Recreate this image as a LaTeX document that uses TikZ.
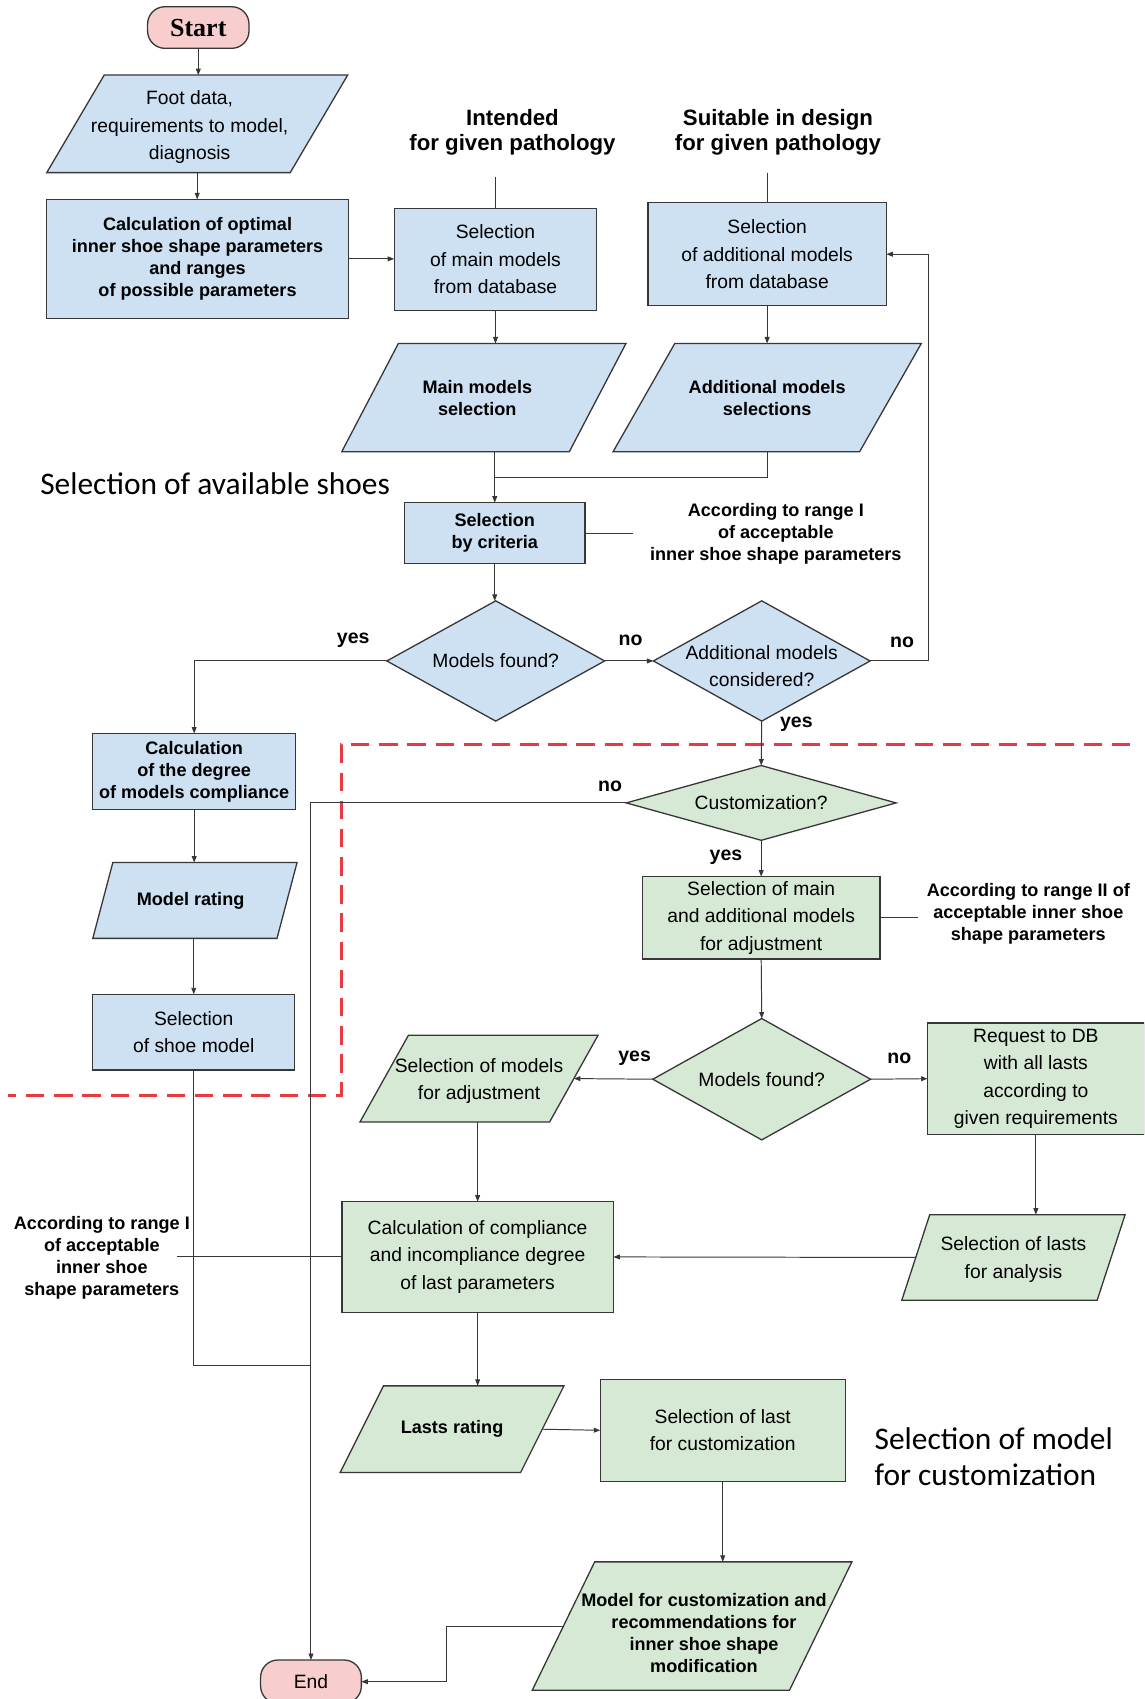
\documentclass[tikz,border=0pt]{standalone}
\usepackage{fontspec}
\setmainfont{Liberation Sans}
\newfontfamily\serifbold{Liberation Serif}
\newfontfamily\carlito{Carlito}
\usetikzlibrary{arrows.meta}
\definecolor{bluefill}{RGB}{205,225,243}
\definecolor{greenfill}{RGB}{214,233,212}
\definecolor{pinkfill}{RGB}{247,206,205}
\definecolor{edgecol}{RGB}{55,55,55}
\definecolor{redline}{RGB}{232,58,66}
\tikzset{
 shapeline/.style={draw=edgecol, line width=1.2pt},
 bluepara/.style={shapeline, fill=bluefill},
 greenpara/.style={shapeline, fill=greenfill},
 rbox/.style={shapeline, inner sep=0pt, outer sep=0pt, align=center},
 bluebox/.style={rbox, fill=bluefill},
 greenbox/.style={rbox, fill=greenfill},
 term/.style={shapeline, fill=pinkfill, rounded corners=16pt, inner sep=0pt, outer sep=0pt},
 anchorbox/.style={inner sep=0pt, outer sep=0pt},
 rtxt/.style={align=center, inner sep=0pt, font=\fontsize{17.8}{25.3}\selectfont},
 btxt/.style={align=center, inner sep=0pt, font=\fontsize{16.7}{20.3}\selectfont\bfseries},
 head/.style={align=center, inner sep=0pt, font=\fontsize{20.5}{23}\selectfont\bfseries},
 lbl/.style={inner sep=0pt, font=\fontsize{18}{20}\selectfont\bfseries},
 big/.style={align=left, inner sep=0pt, font=\carlito\fontsize{29}{33}\selectfont},
 conn/.style={draw=edgecol, line width=0.9pt},
 arr/.style={conn, -{Triangle[length=6pt,width=4.5pt]}},
 reddash/.style={draw=redline, line width=2.6pt, dash pattern=on 17pt off 9pt},
}
% parallelogram: name, cx, cy, edge length, height, slant offset, shape style, text style, text
\newcommand\Para[9]{%
 \draw[#7] ({#2-#4/2+#6/2},{#3-#5/2}) -- ({#2+#4/2+#6/2},{#3-#5/2})
   -- ({#2+#4/2-#6/2},{#3+#5/2}) -- ({#2-#4/2-#6/2},{#3+#5/2}) -- cycle;
 \node[anchorbox, minimum width=#4pt, minimum height=#5pt] (#1) at (#2,#3) {};
 \node[#8] at (#1.center) {#9};}
% diamond: name, cx, cy, width, height, shape style, text style, text
\newcommand\Dia[8]{%
 \draw[#6] ({#2-#4/2},{#3}) -- ({#2},{#3-#5/2}) -- ({#2+#4/2},{#3}) -- ({#2},{#3+#5/2}) -- cycle;
 \node[anchorbox, minimum width=#4pt, minimum height=#5pt] (#1) at (#2,#3) {};
 \node[#7] at (#1.center) {#8};}
\begin{document}
\begin{tikzpicture}[x=1pt,y=-1pt]
\useasboundingbox (0,0) rectangle (1056,1568);
\fill[white] (0,0) rectangle (1056,1568);
\clip (0,0) rectangle (1056,1568);

% separation line
\draw[reddash] (1043,687) -- (315,687) -- (315,1011) -- (7,1011);

% upper part
\node[term, minimum width=93.6pt, minimum height=38.4pt, font=\serifbold\bfseries\fontsize{24}{26}\selectfont] (start) at (183,25.4) {Start};
\Para{foot}{182}{114.3}{224.7}{90}{53}{bluepara}{rtxt, xshift=-7pt, yshift=-3pt}{Foot data,\\requirements to model,\\diagnosis}
\node[bluebox, btxt, minimum width=278.4pt, minimum height=109.8pt] (calc) at (182.3,238.9) {Calculation of optimal\\inner shoe shape parameters\\and ranges\\of possible parameters};
\node[head] (intended) at (473,122.3) {Intended\\for given pathology};
\node[head] (suitable) at (718,122.3) {Suitable in design\\for given pathology};
\coordinate (intfoot) at (457.3,163);
\coordinate (suitfoot) at (708,159.4);
\node[bluebox, rtxt, minimum width=187pt, minimum height=94pt] (selmain) at (457.3,239.3) {Selection\\of main models\\from database};
\node[bluebox, rtxt, minimum width=220pt, minimum height=95pt] (seladd) at (708,234.6) {Selection\\of additional models\\from database};
\Para{mainsel}{446.5}{367}{210}{100}{52.3}{bluepara}{btxt, xshift=-6pt}{Main models\\selection}
\Para{addsel}{708}{367}{227.5}{100}{57}{bluepara}{btxt}{Additional models\\selections}
\node[big, anchor=west] (avail) at (37,446) {Selection of available shoes};
\node[bluebox, btxt, minimum width=166.4pt, minimum height=56.3pt] (selcrit) at (456.6,492) {Selection\\by criteria};
\coordinate (merge) at (456.6,440.5);
\node[btxt] (crit) at (716,492.5) {According to range I\\of acceptable\\inner shoe shape parameters};
\coordinate (critend) at (584,492);
\Dia{found1}{457.5}{610}{201}{111}{bluepara}{rtxt}{Models found?}
\Dia{addcons}{703}{610}{200}{111}{bluepara}{rtxt, yshift=-5pt}{Additional models\\considered?}
\node[lbl] (yes1) at (326,591) {yes};
\node[lbl] (no1) at (582,591) {no};
\node[lbl] (no2) at (832.5,593) {no};
\node[lbl] (yes2) at (735,668) {yes};
\coordinate (loopx) at (857,610);

% left column
\node[bluebox, btxt, minimum width=187.5pt, minimum height=70pt] (calcdeg) at (179.2,712) {Calculation\\of the degree\\of models compliance};
\Para{mrating}{179.9}{831}{170}{70}{18.5}{bluepara}{btxt, xshift=-4pt}{Model rating}
\node[bluebox, rtxt, minimum width=186.5pt, minimum height=70pt] (selshoe) at (178.8,952.6) {Selection\\of shoe model};
\coordinate (join) at (287,1260);

% customization part
\Dia{custom}{702.5}{741}{249}{69}{greenpara}{rtxt}{Customization?}
\node[lbl] (no3) at (563,726) {no};
\node[lbl] (yes3) at (670,791) {yes};
\node[greenbox, rtxt, minimum width=219pt, minimum height=76pt] (selma) at (702.5,847) {Selection of main\\and additional models\\for adjustment};
\node[btxt] (noteII) at (949,843) {According to range II of\\acceptable inner shoe\\shape parameters};
\coordinate (noteIIend) at (847,847);
\Dia{found2}{703}{996}{201}{112}{greenpara}{rtxt}{Models found?}
\node[lbl] (yes4) at (585.7,977) {yes};
\node[lbl] (no4) at (830,977) {no};
\node[greenbox, rtxt, minimum width=200pt, minimum height=103pt] (req) at (956,995.5) {Request to DB\\with all lasts\\according to\\given requirements};
\Para{seladj}{442.1}{995.4}{175}{80}{44.7}{greenpara}{rtxt, yshift=-2pt}{Selection of models\\for adjustment}
\node[greenbox, rtxt, minimum width=250.5pt, minimum height=102pt] (calcomp) at (440.8,1160) {Calculation of compliance\\and incompliance degree\\of last parameters};
\node[btxt] (noteI) at (94,1160.5) {According to range I\\of acceptable\\inner shoe\\shape parameters};
\coordinate (noteIend) at (163.2,1160);
\Para{sellasts}{935.3}{1160.5}{180.3}{79}{25.8}{greenpara}{rtxt, yshift=-2pt}{Selection of lasts\\for analysis}
\Para{lrating}{417.2}{1319}{166.5}{80}{40}{greenpara}{btxt}{Lasts rating}
\node[greenbox, rtxt, minimum width=226pt, minimum height=94pt] (sellast) at (667,1320) {Selection of last\\for customization};
\node[big, anchor=west] (custtitle) at (807,1344.5) {Selection of model\\for customization};
\Para{modelcust}{638.7}{1500.7}{237.4}{118.5}{57.6}{greenpara}{btxt, xshift=11pt, yshift=-6pt}{Model for customization and\\recommendations for\\inner shoe shape\\modification}
\coordinate (mcx) at (412,1500);
\node[term, rtxt, minimum width=93pt, minimum height=40pt] (end) at (287,1552) {End};

% connectors
\draw[arr] (start.south) -- (start.south |- foot.north);
\draw[arr] (foot.south) -- (foot.south |- calc.north);
\draw[arr] (calc.east) -- (calc.east -| selmain.west);
\draw[conn] (intfoot) -- (selmain.north);
\draw[conn] (suitfoot) -- (seladd.north);
\draw[arr] (selmain.south) -- (selmain.south |- mainsel.north);
\draw[arr] (seladd.south) -- (addsel.north);
\draw[arr] (selcrit.north |- mainsel.south) -- (selcrit.north);
\draw[conn] (addsel.south) |- (merge);
\draw[conn] (selcrit.east) -- (critend);
\draw[arr] (selcrit.south) -- (selcrit.south |- found1.north);
\draw[arr] (found1.west) -| (calcdeg.north);
\draw[arr] (found1.east) -- (addcons.west);
\draw[arr] (addcons.east) -- (loopx) |- (seladd.east);
\draw[arr] (addcons.south) -- (custom.north);
\draw[arr] (calcdeg.south) -- (calcdeg.south |- mrating.north);
\draw[arr] (selshoe.north |- mrating.south) -- (selshoe.north);
\draw[conn] (selshoe.south) |- (join);
\draw[arr] (custom.west) -| (end.north);
\draw[arr] (custom.south) -- (selma.north);
\draw[conn] (selma.east) -- (noteIIend);
\draw[arr] (selma.south) -- (found2.north);
\draw[arr] (found2.west) -- (seladj.east);
\draw[arr] (found2.east) -- (req.west);
\draw[arr] (req.south) -- (req.south |- sellasts.north);
\draw[arr] (sellasts.west) -- (calcomp.east);
\draw[arr] (calcomp.north |- seladj.south) -- (calcomp.north);
\draw[conn] (calcomp.west) -- (noteIend);
\draw[arr] (calcomp.south) -- (calcomp.south |- lrating.north);
\draw[arr] (lrating.east) -- (sellast.west);
\draw[arr] (sellast.south) -- (sellast.south |- modelcust.north);
\draw[arr] (modelcust.west) -- (modelcust.west -| mcx) |- (end.east);
\end{tikzpicture}
\end{document}
